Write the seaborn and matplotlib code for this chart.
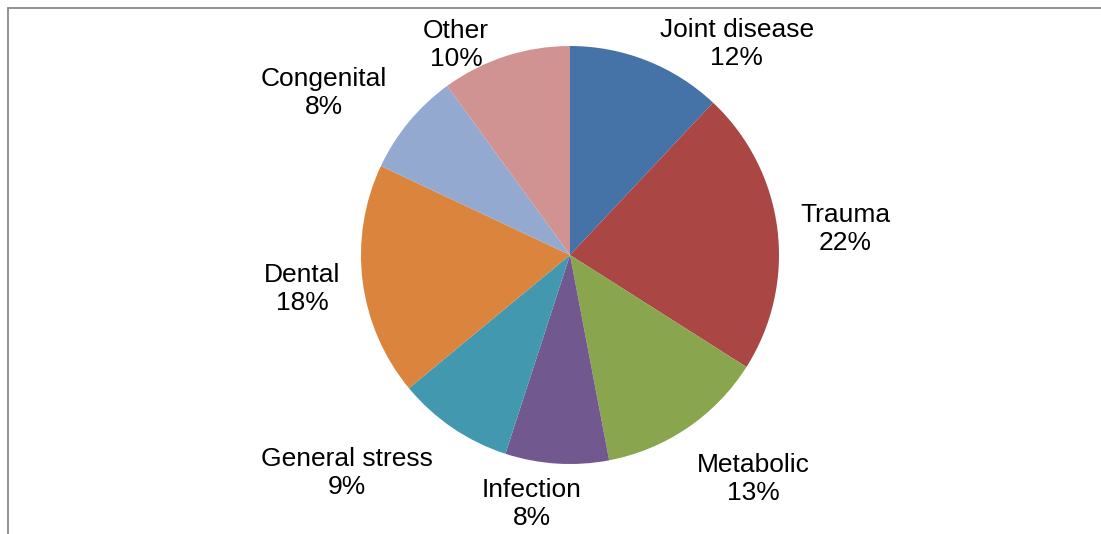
import matplotlib
matplotlib.use("Agg")
import matplotlib.pyplot as plt
from matplotlib.lines import Line2D
import seaborn as sns

# pie data, clockwise from 12 o'clock
causes = ["Joint disease", "Trauma", "Metabolic", "Infection",
          "General stress", "Dental", "Congenital", "Other"]
percent = [12, 22, 13, 8, 9, 18, 8, 10]
colors = ["#4572A7", "#AA4643", "#89A54E", "#71588F",
          "#4198AF", "#DB843D", "#93A9CF", "#D19392"]

# where the labels sit (pie radius = 1)
label_pos = [(0.797, 1.009), (1.316, 0.124), (0.876, -1.072), (-0.182, -1.192),
             (-1.067, -1.043), (-1.280, -0.163), (-1.177, 0.775), (-0.545, 1.004)]

sns.set_theme(style="white")
plt.rcParams["font.family"] = ["Liberation Sans", "DejaVu Sans"]

fig = plt.figure(figsize=(11.01, 5.34), dpi=100)
ax = fig.add_axes([0, 0, 1, 1])

labels = [f"{c}\n{p}%" for c, p in zip(causes, percent)]
wedges, texts = ax.pie(percent, labels=labels, colors=colors, startangle=90,
                       counterclock=False, radius=1,
                       wedgeprops=dict(linewidth=0),
                       textprops=dict(fontsize=19, color="black"))

for t, (x, y) in zip(texts, label_pos):
    t.set_position((x, y))
    t.set_ha("center")
    t.set_va("center")
    t.set_multialignment("center")

# pie centre at (570, 255) px, radius 209 px
r = 209
ax.set_xlim(-570 / r, (1101 - 570) / r)
ax.set_ylim(-(534 - 255) / r, 255 / r)
ax.set_aspect("equal")
ax.axis("off")

# grey chart frame visible on top and left
W, H = 1101, 534
fig.add_artist(Line2D([8 / W, 1], [1 - 7.5 / H, 1 - 7.5 / H], color="#8a8a8a", lw=1.3))
fig.add_artist(Line2D([8 / W, 8 / W], [0, 1 - 7.5 / H], color="#8a8a8a", lw=1.3))

fig.savefig("out.png", dpi=100, facecolor="white")
